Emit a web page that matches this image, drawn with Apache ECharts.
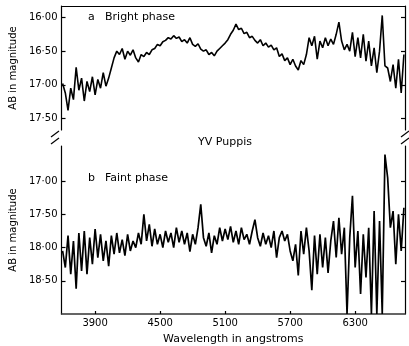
<!DOCTYPE html>
<html>
<head>
<meta charset="utf-8">
<script src="https://cdn.jsdelivr.net/npm/echarts@6/dist/echarts.min.js"></script>
<style>
  html, body { margin: 0; padding: 0; background: #fff; }
  #chart { width: 409px; height: 346px; }
</style>
</head>
<body>
<div id="chart"></div>
<script>
// wavelength samples (angstroms)
const wavelengths = [
  3600, 3625, 3650, 3675, 3700, 3725, 3750, 3775, 3800, 3825,
  3850, 3875, 3900, 3925, 3950, 3975, 4000, 4025, 4050, 4075,
  4100, 4125, 4150, 4175, 4200, 4225, 4250, 4275, 4300, 4325,
  4350, 4375, 4400, 4425, 4450, 4475, 4500, 4525, 4550, 4575,
  4600, 4625, 4650, 4675, 4700, 4725, 4750, 4775, 4800, 4825,
  4850, 4875, 4900, 4925, 4950, 4975, 5000, 5025, 5050, 5075,
  5100, 5125, 5150, 5175, 5200, 5225, 5250, 5275, 5300, 5325,
  5350, 5375, 5400, 5425, 5450, 5475, 5500, 5525, 5550, 5575,
  5600, 5625, 5650, 5675, 5700, 5725, 5750, 5775, 5800, 5825,
  5850, 5875, 5900, 5925, 5950, 5975, 6000, 6025, 6050, 6075,
  6100, 6125, 6150, 6175, 6200, 6225, 6250, 6275, 6300, 6325,
  6350, 6375, 6400, 6425, 6450, 6475, 6500, 6525, 6550, 6575,
  6600, 6625, 6650, 6675, 6700, 6725, 6750
];

// a  Bright phase (AB magnitude)
const brightMag = [
  16.98, 17.12, 17.38, 17.05, 17.22, 16.74, 17.08, 16.90, 17.24, 16.95,
  17.10, 16.88, 17.15, 16.92, 17.05, 16.82, 17.02, 16.90, 16.75, 16.60,
  16.50, 16.55, 16.46, 16.62, 16.50, 16.56, 16.48, 16.60, 16.66, 16.55,
  16.58, 16.52, 16.55, 16.48, 16.46, 16.40, 16.42, 16.36, 16.34, 16.30,
  16.32, 16.27, 16.31, 16.29, 16.36, 16.33, 16.38, 16.30, 16.40, 16.43,
  16.39, 16.47, 16.50, 16.48, 16.55, 16.52, 16.57, 16.50, 16.46, 16.42,
  16.38, 16.33, 16.25, 16.19, 16.10, 16.18, 16.16, 16.24, 16.22, 16.30,
  16.28, 16.34, 16.38, 16.33, 16.42, 16.38, 16.44, 16.41, 16.48, 16.45,
  16.58, 16.54, 16.64, 16.60, 16.70, 16.62, 16.72, 16.78, 16.64, 16.70,
  16.55, 16.30, 16.42, 16.28, 16.62, 16.35, 16.45, 16.30, 16.42, 16.32,
  16.40, 16.25, 16.07, 16.35, 16.48, 16.40, 16.50, 16.22, 16.58, 16.30,
  16.60, 16.25, 16.65, 16.35, 16.72, 16.45, 16.82, 16.50, 15.97, 16.72,
  16.75, 16.95, 16.70, 17.05, 16.62, 17.12, 16.55
];

// b  Faint phase (AB magnitude)
const faintMag = [
  18.05, 18.30, 17.82, 18.40, 17.90, 18.62, 17.78, 18.35, 17.75, 18.40,
  17.85, 18.25, 17.72, 18.15, 17.80, 18.20, 17.90, 18.28, 17.82, 18.10,
  17.78, 18.08, 17.88, 18.12, 17.80, 18.05, 17.90, 18.00, 17.78, 17.95,
  17.50, 17.90, 17.65, 17.98, 17.72, 17.95, 17.80, 18.00, 17.75, 17.92,
  17.78, 18.00, 17.70, 17.92, 17.75, 17.95, 17.78, 18.06, 17.80, 17.95,
  17.70, 17.35, 17.85, 17.98, 17.78, 18.08, 17.82, 17.95, 17.70, 17.90,
  17.72, 17.88, 17.68, 17.92, 17.75, 17.95, 17.70, 17.88, 17.80, 17.95,
  17.75, 17.58, 17.85, 17.98, 17.78, 17.95, 17.82, 18.00, 17.75, 18.15,
  17.85, 17.75, 17.90, 17.80, 18.05, 18.20, 17.95, 18.42, 17.75, 18.10,
  17.70, 18.05, 18.64, 17.82, 18.40, 17.80, 18.30, 17.85, 18.38, 17.90,
  17.60, 18.15, 17.55, 18.10, 17.70, 19.00, 17.85, 17.22, 18.30, 17.75,
  18.70, 17.80, 18.45, 17.70, 19.00, 17.45, 19.00, 17.60, 19.00, 16.60,
  16.95, 17.70, 17.45, 18.25, 17.50, 18.05, 17.40
];

const brightTicks = [16, 16.5, 17, 17.5];
const faintTicks = [17, 17.5, 18, 18.5];
const wavelengthTicks = [3900, 4500, 5100, 5700, 6300];

const INK = '#000';
const FONT = 'DejaVu Sans';

const fmtMag = v => v.toFixed(2).replace('.', '\u00b7');
const pairs = ys => wavelengths.map((w, i) => [w, ys[i]]);

const magAxis = (gridIndex, min, max, ticks, position, withLabels) => ({
  type: 'value',
  gridIndex,
  position,
  inverse: true,
  min,
  max,
  axisLine: { show: true, lineStyle: { color: INK, width: 1.2 } },
  axisTick: { show: true, inside: true, length: 4, customValues: ticks, lineStyle: { color: INK, width: 1.2 } },
  axisLabel: {
    show: withLabels,
    customValues: ticks,
    formatter: fmtMag,
    color: INK,
    fontSize: 10,
    fontFamily: FONT,
    margin: 4
  },
  splitLine: { show: false },
  name: withLabels ? 'AB in magnitude' : '',
  nameLocation: 'middle',
  nameGap: 40,
  nameTextStyle: { color: INK, fontSize: 10, fontFamily: FONT }
});

const chart = echarts.init(document.getElementById('chart'));

const label = (x, y, text, align) => ({
  type: 'text',
  x, y,
  style: { text, fill: INK, font: '11px "DejaVu Sans"', align: align || 'left', verticalAlign: 'middle' }
});

const slash = (x, y) => ({
  type: 'line',
  shape: { x1: x - 4, y1: y + 3, x2: x + 4, y2: y - 3 },
  style: { stroke: INK, lineWidth: 1.2 }
});

chart.setOption({
  animation: false,
  backgroundColor: '#fff',
  grid: [
    { left: 55, top: 6, width: 350, height: 124 },
    { left: 55, top: 146, width: 350, height: 169.5 }
  ],
  xAxis: [
    {
      type: 'value', gridIndex: 0, position: 'top', min: 3590, max: 6760,
      axisLine: { show: true, lineStyle: { color: INK, width: 1.2 } },
      axisTick: { show: false },
      axisLabel: { show: false },
      splitLine: { show: false }
    },
    {
      type: 'value', gridIndex: 1, position: 'bottom', min: 3590, max: 6760,
      axisLine: { show: true, lineStyle: { color: '#333', width: 1.5 } },
      axisTick: { show: true, inside: true, length: 3, customValues: wavelengthTicks, lineStyle: { color: INK, width: 1.2 } },
      axisLabel: { customValues: wavelengthTicks, formatter: v => String(v), color: INK, fontSize: 10, fontFamily: FONT, margin: 4 },
      splitLine: { show: false },
      name: 'Wavelength in angstroms',
      nameLocation: 'middle',
      nameGap: 20,
      nameTextStyle: { color: INK, fontSize: 11, fontFamily: FONT }
    }
  ],
  yAxis: [
    magAxis(0, 15.83, 17.67, brightTicks, 'left', true),
    magAxis(0, 15.83, 17.67, brightTicks, 'right', false),
    magAxis(1, 16.47, 19.0, faintTicks, 'left', true),
    magAxis(1, 16.47, 19.0, faintTicks, 'right', false)
  ],
  series: [
    {
      name: 'Bright phase', type: 'line', xAxisIndex: 0, yAxisIndex: 0,
      data: pairs(brightMag), showSymbol: false,
      lineStyle: { color: INK, width: 1.6 }
    },
    {
      name: 'Faint phase', type: 'line', xAxisIndex: 1, yAxisIndex: 2,
      data: pairs(faintMag), showSymbol: false, clip: true,
      lineStyle: { color: INK, width: 1.7 }
    }
  ],
  graphic: [
    label(88, 17, 'a'),
    label(105, 17, 'Bright phase'),
    label(225, 142, 'YV Puppis', 'center'),
    label(88, 178, 'b'),
    label(105, 178, 'Faint phase'),
    slash(55, 134),
    slash(55, 141),
    slash(405, 134),
    slash(405, 141)
  ]
});
</script>
</body>
</html>
